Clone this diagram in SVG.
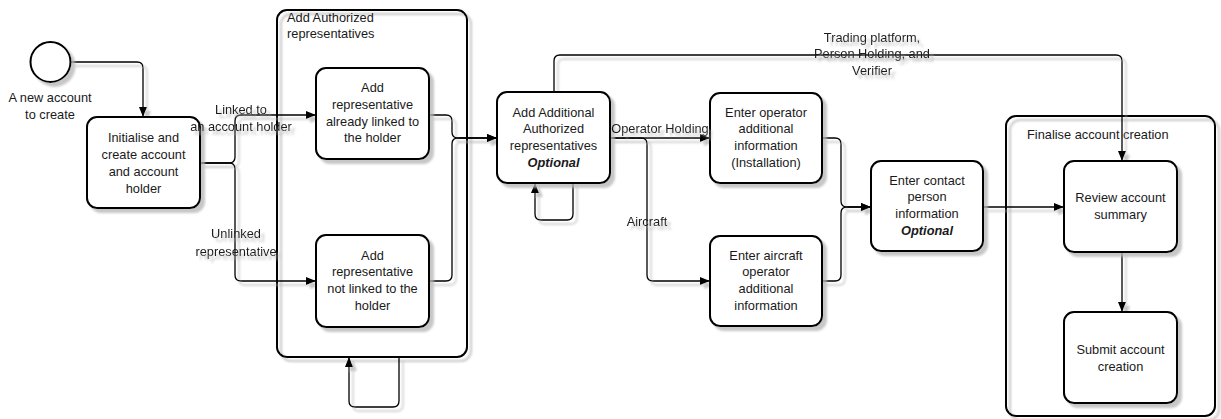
<svg xmlns="http://www.w3.org/2000/svg" width="1221" height="419" viewBox="0 0 1221 419">
<style>
text{font-family:"Liberation Sans",Arial,sans-serif;font-size:12.8px;fill:#1a1a1a}
.c{text-anchor:middle}
.node{fill:#fff;stroke:#000;stroke-width:2}
.grp{fill:none;stroke:#000;stroke-width:2}
.edge{fill:none;stroke:#000;stroke-width:1.3}
.arr{marker-end:url(#ah)}
.opt{font-weight:bold;font-style:italic}
</style>
<defs>
<filter id="sh" x="-20%" y="-20%" width="140%" height="140%">
<feDropShadow dx="4" dy="4" stdDeviation="0.9" flood-color="#b4b4b4" flood-opacity="0.75"/>
</filter>
<marker id="ah" viewBox="0 0 10 8" refX="10" refY="4" markerWidth="10" markerHeight="8" markerUnits="userSpaceOnUse" orient="auto">
<path d="M0,0 L10,4 L0,8 Z" fill="#000"/>
</marker>
</defs>
<rect width="1221" height="419" fill="#fff"/>

<g id="group-authorized">
<rect class="grp" x="277" y="10" width="190" height="347" rx="10" filter="url(#sh)"/>
<text x="287" y="22">Add Authorized</text>
<text x="287" y="38">representatives</text>
</g>
<g id="group-finalise">
<rect class="grp" x="1006" y="116" width="209" height="300" rx="10" filter="url(#sh)"/>
<text x="1027" y="139">Finalise account creation</text>
</g>

<g id="connectors" filter="url(#sh)">
<path class="edge arr" d="M71,62 H137 Q143,62 143,68 V117"/>
<path class="edge arr" d="M200,163 H229 Q235,163 235,157 V121 Q235,115 241,115 H316"/>
<path class="edge arr" d="M200,163 H229 Q235,163 235,169 V275 Q235,281 241,281 H316"/>
<path class="edge arr" d="M429,115 H446 Q452,115 452,121 V132 Q452,138 458,138 H497"/>
<path class="edge arr" d="M429,281 H446 Q452,281 452,275 V144 Q452,138 458,138 H497"/>
<path class="edge arr" d="M399,357 V401 Q399,407 393,407 H355 Q349,407 349,401 V357"/>
<path class="edge arr" d="M573,183 V214 Q573,220 567,220 H541 Q535,220 535,214 V183"/>
<path class="edge arr" d="M554,92 V61 Q554,55 560,55 H1116 Q1122,55 1122,61 V161"/>
<path class="edge arr" d="M610,138 H710"/>
<path class="edge arr" d="M610,138 H641 Q647,138 647,144 V275 Q647,281 653,281 H710"/>
<path class="edge arr" d="M822,138 H835 Q841,138 841,144 V201 Q841,207 847,207 H871"/>
<path class="edge arr" d="M822,281 H835 Q841,281 841,275 V213 Q841,207 847,207 H871"/>
<path class="edge arr" d="M983,207 H1064"/>
<path class="edge arr" d="M1122,252 V312"/>
</g>

<g id="start">
<circle cx="50.5" cy="62" r="20" fill="#fff" stroke="#000" stroke-width="2" filter="url(#sh)"/>
<text class="c" x="50" y="102">A new account</text>
<text class="c" x="50" y="119">to create</text>
</g>

<g id="init">
<rect class="node" x="87" y="117" width="113" height="91" rx="10" filter="url(#sh)"/>
<text class="c" x="143.5" y="142">Initialise and</text>
<text class="c" x="143.5" y="159">create account</text>
<text class="c" x="143.5" y="176">and account</text>
<text class="c" x="143.5" y="193">holder</text>
</g>

<g id="rep-linked">
<rect class="node" x="316" y="68" width="113" height="91" rx="10" filter="url(#sh)"/>
<text class="c" x="372.5" y="92">Add</text>
<text class="c" x="372.5" y="109">representative</text>
<text class="c" x="372.5" y="126">already linked to</text>
<text class="c" x="372.5" y="142">the holder</text>
</g>

<g id="rep-unlinked">
<rect class="node" x="316" y="235" width="113" height="92" rx="10" filter="url(#sh)"/>
<text class="c" x="372.5" y="260">Add</text>
<text class="c" x="372.5" y="276">representative</text>
<text class="c" x="372.5" y="293">not linked to the</text>
<text class="c" x="372.5" y="310">holder</text>
</g>

<g id="additional">
<rect class="node" x="497" y="92" width="113" height="91" rx="10" filter="url(#sh)"/>
<text class="c" x="553.5" y="117">Add Additional</text>
<text class="c" x="553.5" y="133">Authorized</text>
<text class="c" x="553.5" y="150">representatives</text>
<text class="c opt" x="553.5" y="167">Optional</text>
</g>

<g id="operator">
<rect class="node" x="710" y="93" width="112" height="90" rx="10" filter="url(#sh)"/>
<text class="c" x="766" y="117">Enter operator</text>
<text class="c" x="766" y="133">additional</text>
<text class="c" x="766" y="150">information</text>
<text class="c" x="766" y="167">(Installation)</text>
</g>

<g id="aircraft">
<rect class="node" x="710" y="236" width="112" height="90" rx="10" filter="url(#sh)"/>
<text class="c" x="766" y="260">Enter aircraft</text>
<text class="c" x="766" y="276">operator</text>
<text class="c" x="766" y="293">additional</text>
<text class="c" x="766" y="310">information</text>
</g>

<g id="contact">
<rect class="node" x="871" y="161" width="112" height="90" rx="10" filter="url(#sh)"/>
<text class="c" x="927" y="185">Enter contact</text>
<text class="c" x="927" y="201">person</text>
<text class="c" x="927" y="218">information</text>
<text class="c opt" x="927" y="235">Optional</text>
</g>

<g id="review">
<rect class="node" x="1064" y="161" width="113" height="91" rx="10" filter="url(#sh)"/>
<text class="c" x="1120.5" y="202">Review account</text>
<text class="c" x="1120.5" y="219">summary</text>
</g>

<g id="submit">
<rect class="node" x="1064" y="312" width="113" height="91" rx="10" filter="url(#sh)"/>
<text class="c" x="1120.5" y="354">Submit account</text>
<text class="c" x="1120.5" y="371">creation</text>
</g>

<g id="connector-labels" filter="url(#sh)">
<text class="c" x="241" y="114">Linked to</text>
<text class="c" x="241" y="131">an account holder</text>
<text class="c" x="236" y="238">Unlinked</text>
<text class="c" x="236" y="256">representative</text>
<text class="c" x="660" y="133">Operator Holding</text>
<text class="c" x="647" y="226">Aircraft</text>
<text class="c" x="872" y="42">Trading platform,</text>
<text class="c" x="872" y="58">Person Holding, and</text>
<text class="c" x="872" y="75">Verifier</text>
</g>
</svg>
